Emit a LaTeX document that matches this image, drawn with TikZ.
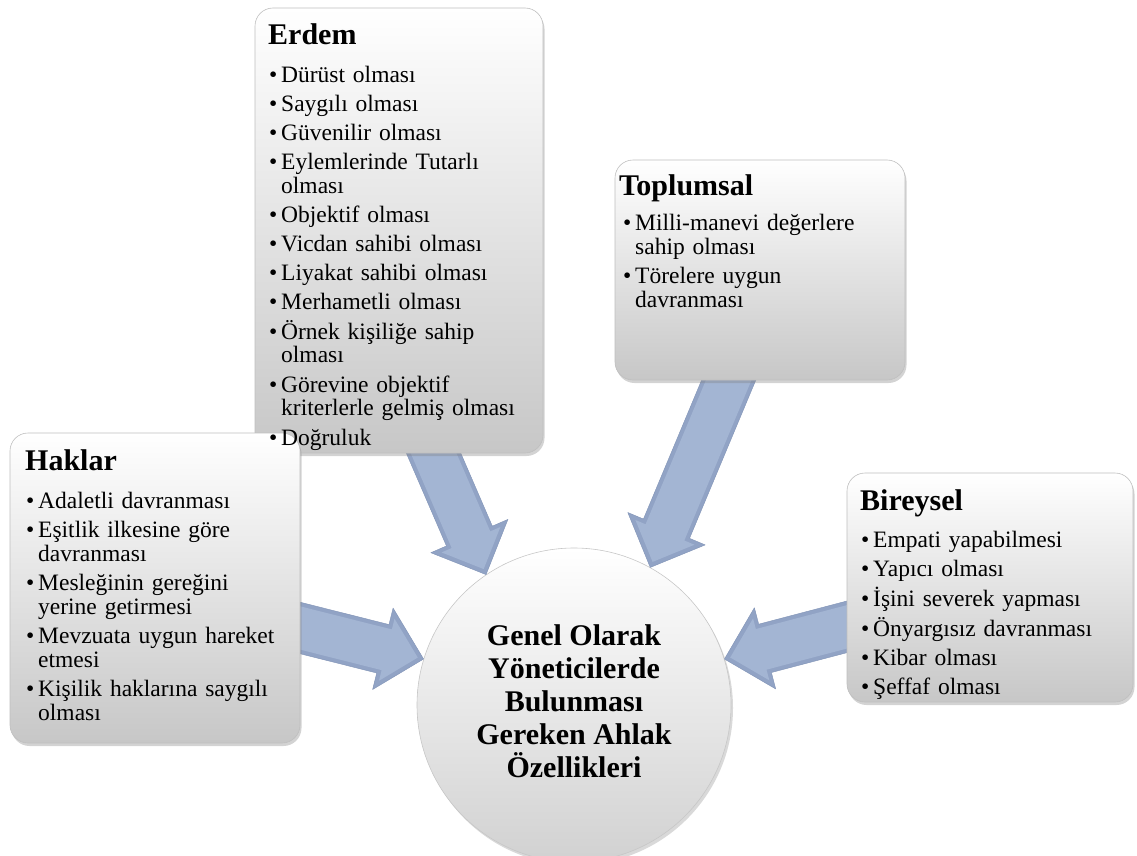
\documentclass[tikz,border=0pt]{standalone}
\usepackage{fontspec}
\setmainfont{Liberation Serif}
\usetikzlibrary{calc,shadows}

\definecolor{arrowblue}{HTML}{A3B5D3}
\definecolor{arrowrim}{HTML}{91A3C5}
\definecolor{arrowedge}{HTML}{8093B6}

\pgfdeclarelayer{bg}
\pgfsetlayers{bg,main}

% one bullet item with a hanging second line
\newcommand\bitem[1]{\hangindent=12pt\hangafter=1\makebox[12pt][l]{\textbullet}#1\par}

% broad bevelled block arrow from a tail coordinate to a tip coordinate
\newcommand\fatarrow[2]{%
  \coordinate (fa-b) at ($(#2)!42pt!(#1)$);
  \coordinate (fa-c) at ($(#2)!38pt!(#1)$);
  \coordinate (fa-t) at ($(#2)!6pt!(#1)$);
  \filldraw[arrowbody]
    ($(#1)!25pt!90:(#2)$) -- ($(fa-b)!25pt!-90:(#1)$) -- ($(fa-b)!42pt!-90:(#1)$)
    -- (#2)
    -- ($(fa-b)!42pt!90:(#1)$) -- ($(fa-b)!25pt!90:(#1)$) -- ($(#1)!25pt!-90:(#2)$)
    -- cycle;
  \fill[arrowface]
    ($(#1)!21pt!90:(#2)$) -- ($(fa-c)!21pt!-90:(#1)$) -- ($(fa-c)!32pt!-90:(#1)$)
    -- (fa-t)
    -- ($(fa-c)!32pt!90:(#1)$) -- ($(fa-c)!21pt!90:(#1)$) -- ($(#1)!21pt!-90:(#2)$)
    -- cycle;
}

\tikzset{
  panel/.style={draw=black!25, line width=0.6pt, rounded corners=18pt,
    top color=white, bottom color=black!22, inner sep=0pt,
    drop shadow={shadow xshift=1.5pt, shadow yshift=-3pt, opacity=0.35}},
  hub/.style={circle, draw=black!22, line width=0.6pt, inner sep=0pt,
    minimum size=314pt, top color=white, middle color=black!3, bottom color=black!18,
    drop shadow={shadow xshift=2pt, shadow yshift=-3pt, opacity=0.3}},
  hubtext/.style={align=center, inner sep=0pt,
    font=\fontsize{30pt}{33pt}\selectfont\bfseries},
  heading/.style={anchor=base west, inner sep=0pt,
    font=\fontsize{30pt}{32pt}\selectfont\bfseries},
  itemlist/.style={anchor=base west, inner sep=0pt, text width=420pt,
    font=\fontsize{23.5pt}{24pt}\selectfont,
    execute at begin node={\setlength\parskip{5pt}\raggedright}},
  arrowbody/.style={fill=arrowrim, draw=arrowedge, line width=0.4pt, line join=round},
  arrowface/.style={fill=arrowblue}
}

\begin{document}
\begin{tikzpicture}[x=1pt,y=-1pt]
\useasboundingbox (0,0) rectangle (1137,856);

% category panels
\node[panel, minimum width=288pt, minimum height=445pt] (erdem) at (399,230.5) {};
\node[panel, minimum width=290pt, minimum height=220pt] (toplumsal) at (760,270) {};
\node[panel, minimum width=290pt, minimum height=310pt] (haklar) at (155,588) {};
\node[panel, minimum width=286pt, minimum height=229pt] (bireysel) at (990,587.5) {};

% panel texts
\node[heading] (erdem-h) at (268,45) {Erdem};
\node[itemlist] (erdem-l) at (269,83) {%
  \bitem{Dürüst olması}
  \bitem{Saygılı olması}
  \bitem{Güvenilir olması}
  \bitem{Eylemlerinde Tutarlı\newline olması}
  \bitem{Objektif olması}
  \bitem{Vicdan sahibi olması}
  \bitem{Liyakat sahibi olması}
  \bitem{Merhametli olması}
  \bitem{Örnek kişiliğe sahip\newline olması}
  \bitem{Görevine objektif\newline kriterlerle gelmiş olması}
  \bitem{Doğruluk}};

\node[heading] (toplumsal-h) at (619,195) {Toplumsal};
\node[itemlist] (toplumsal-l) at (623,230) {%
  \bitem{Milli-manevi değerlere\newline sahip olması}
  \bitem{Törelere uygun\newline davranması}};

\node[heading] (haklar-h) at (25,470) {Haklar};
\node[itemlist] (haklar-l) at (26,508) {%
  \bitem{Adaletli davranması}
  \bitem{Eşitlik ilkesine göre\newline davranması}
  \bitem{Mesleğinin gereğini\newline yerine getirmesi}
  \bitem{Mevzuata uygun hareket\newline etmesi}
  \bitem{Kişilik haklarına saygılı\newline olması}};

\node[heading] (bireysel-h) at (860,510) {Bireysel};
\node[itemlist] (bireysel-l) at (861,547) {%
  \bitem{Empati yapabilmesi}
  \bitem{Yapıcı olması}
  \bitem{İşini severek yapması}
  \bitem{Önyargısız davranması}
  \bitem{Kibar olması}
  \bitem{Şeffaf olması}};

\begin{pgfonlayer}{bg}
  % central circle
  \node[hub] (hub) at (574,705) {};
  \node[hubtext] (hub-t) at ($(hub.center)+(0,-4)$)
    {Genel Olarak\\Yöneticilerde\\Bulunması\\Gereken Ahlak\\Özellikleri};

  % arrow tails, hidden under the panels
  \coordinate (erdem-tail) at ($(erdem.south)+(29,-13)$);
  \coordinate (toplumsal-tail) at ($(toplumsal.south)+(-23,-20)$);
  \coordinate (haklar-tail) at ($(haklar.east)+(-12,37)$);
  \coordinate (bireysel-tail) at ($(bireysel.west)+(11,36.5)$);

  \fatarrow{erdem-tail}{hub.124}
  \fatarrow{toplumsal-tail}{hub.61}
  \fatarrow{haklar-tail}{hub.163}
  \fatarrow{bireysel-tail}{hub.17}
\end{pgfonlayer}
\end{tikzpicture}
\end{document}
